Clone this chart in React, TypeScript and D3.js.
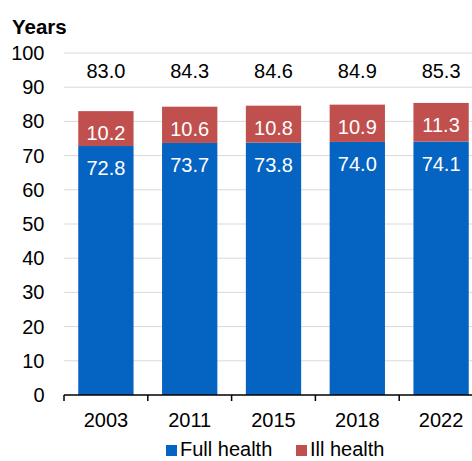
import React from "react";
import * as d3 from "d3";

const categories = ["2003", "2011", "2015", "2018", "2022"];
const fullHealth = [72.8, 73.7, 73.8, 74.0, 74.1];
const illHealth = [10.2, 10.6, 10.8, 10.9, 11.3];
const totals = [83.0, 84.3, 84.6, 84.9, 85.3];
const yTicks = [0, 10, 20, 30, 40, 50, 60, 70, 80, 90, 100];
const seriesNames = ["Full health", "Ill health"];
const colors = ["#0563C1", "#C0504D"];

export default function App() {
  const W = 472, H = 461;
  const left = 64, bandW = 83.8;
  const x = d3.scaleBand<string>()
    .domain(categories)
    .range([left, left + bandW * categories.length])
    .paddingInner(0.34)
    .paddingOuter(0.17);
  const y = d3.scaleLinear().domain([0, 100]).range([395, 53]);
  const font = "'Liberation Sans', Arial, sans-serif";
  const fs = 20;
  const stacks = d3.stack<any>().keys(["full", "ill"])(
    categories.map((c, i) => ({ cat: c, full: fullHealth[i], ill: illHealth[i] }))
  );
  const labels = [fullHealth, illHealth];
  return (
    <svg width={W} height={H} style={{ position: "absolute", left: 0, top: 0, display: "block" }} fontFamily={font}>
      <rect width={W} height={H} fill="#fff" />
      <text x={12} y={27} dy="0.35em" fontSize={20.5} fontWeight="bold" fill="#000">Years</text>
      {yTicks.map((t) => (
        <g key={t}>
          {t > 0 && <line x1={left} x2={W} y1={y(t)} y2={y(t)} stroke="#d9d9d9" strokeWidth={1} />}
          <text x={44.5} y={y(t)} dy="0.35em" textAnchor="end" fontSize={fs} fill="#000">{t}</text>
        </g>
      ))}
      {stacks.map((s, si) => (
        <g key={si}>
          {s.map((d, i) => (
            <g key={i}>
              <rect x={x(categories[i])} width={x.bandwidth()} y={y(d[1])} height={y(d[0]) - y(d[1])} fill={colors[si]} />
              <text x={(x(categories[i]) as number) + x.bandwidth() / 2} y={y(d[1]) + 22} dy="0.35em" textAnchor="middle" fontSize={fs} fill="#fff">
                {labels[si][i].toFixed(1)}
              </text>
            </g>
          ))}
        </g>
      ))}
      {totals.map((t, i) => (
        <text key={i} x={(x(categories[i]) as number) + x.bandwidth() / 2} y={71} dy="0.35em" textAnchor="middle" fontSize={fs} fill="#000">
          {t.toFixed(1)}
        </text>
      ))}
      <line x1={left} x2={W} y1={395} y2={395} stroke="#000" strokeWidth={1.5} />
      {d3.range(categories.length + 1).map((k) => (
        <line key={k} x1={left + k * bandW} x2={left + k * bandW} y1={395} y2={401} stroke="#000" strokeWidth={1.5} />
      ))}
      {categories.map((c) => (
        <text key={c} x={(x(c) as number) + x.bandwidth() / 2} y={419.5} dy="0.35em" textAnchor="middle" fontSize={fs} fill="#000">{c}</text>
      ))}
      <rect x={166} y={445} width={11} height={11} fill={colors[0]} />
      <text x={180} y={455.5} fontSize={fs} fill="#000">{seriesNames[0]}</text>
      <rect x={296} y={445} width={11} height={11} fill={colors[1]} />
      <text x={310} y={455.5} fontSize={fs} fill="#000">{seriesNames[1]}</text>
    </svg>
  );
}
